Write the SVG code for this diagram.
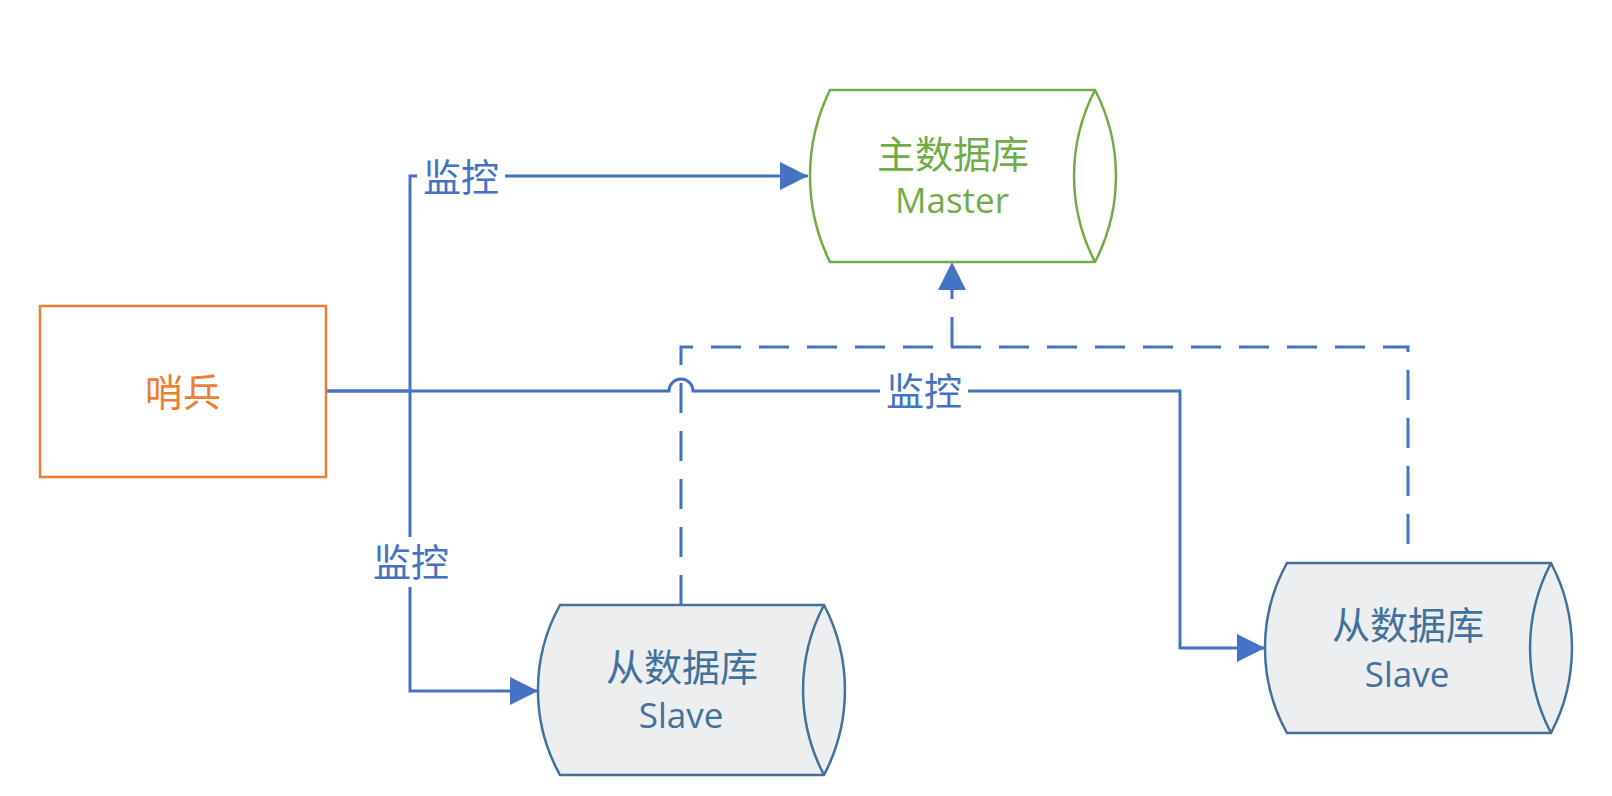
<svg xmlns="http://www.w3.org/2000/svg" width="1612" height="796" viewBox="0 0 1612 796">
<style>
.cn{font-family:"Noto Sans CJK SC","Microsoft YaHei",sans-serif;font-size:38px;text-anchor:middle}
.lat{font-family:"Open Sans","Noto Sans",sans-serif;font-size:35px;text-anchor:middle}
.conn{fill:none;stroke:#4472C4;stroke-width:3}
.dash{stroke-dasharray:30 18}
.lbl{fill:#4472C4}
.lblbg{fill:#FFFFFF}
.master{fill:#FFFFFF;stroke:#70AD47;stroke-width:2.5}
.slave{fill:#ECEEEF;stroke:#41719C;stroke-width:2.5}
.inner{fill:none}
</style>
<defs>
<marker id="arr" markerUnits="userSpaceOnUse" markerWidth="28" markerHeight="28" viewBox="0 0 26 26" refX="26" refY="13" orient="auto">
<path d="M0,0 L26,13 L0,26 Z" fill="#4472C4"/>
</marker>
</defs>
<rect width="1612" height="796" fill="#FFFFFF"/>

<g id="connectors">
<path class="conn" d="M326,391 H410 V176 H808" marker-end="url(#arr)"/>
<path class="conn" d="M410,391 V691 H538" marker-end="url(#arr)"/>
<path class="conn" d="M326,391 H669 A12,12 0 0 1 693,391 H1180 V648 H1265" marker-end="url(#arr)"/>
<path class="conn dash" d="M681,605 V347 H1408 V563"/>
<path class="conn dash" d="M952,347 V262" marker-end="url(#arr)"/>
<g id="label-master">
<rect class="lblbg" x="417" y="158" width="88" height="38"/>
<text class="cn lbl" x="461" y="191">监控</text>
</g>
<g id="label-slave2">
<rect class="lblbg" x="880" y="372" width="88" height="38"/>
<text class="cn lbl" x="924" y="405">监控</text>
</g>
<g id="label-slave1">
<rect class="lblbg" x="367" y="537" width="88" height="50"/>
<text class="cn lbl" x="411" y="576">监控</text>
</g>
</g>

<g id="sentinel">
<rect x="40" y="306" width="286" height="171" fill="#FFFFFF" stroke="#ED7D31" stroke-width="2.5"/>
<text class="cn" x="183" y="406" fill="#ED7D31">哨兵</text>
</g>

<g id="master">
<path class="master" d="M830,90 H1095 A187,187 0 0 1 1095,262 H830 A195,195 0 0 1 830,90 Z"/>
<path class="master inner" d="M1095,90 A187,187 0 0 0 1095,262"/>
<text class="cn" x="953" y="168" fill="#70AD47">主数据库</text>
<text class="lat" x="952" y="213" fill="#70AD47">Master</text>
</g>

<g id="slave1">
<path class="slave" d="M560,605 H824 A183,183 0 0 1 824,775 H560 A175,175 0 0 1 560,605 Z"/>
<path class="slave inner" d="M824,605 A183,183 0 0 0 824,775"/>
<text class="cn" x="682" y="681" fill="#41719C">从数据库</text>
<text class="lat" x="681" y="728" fill="#41719C">Slave</text>
</g>

<g id="slave2">
<path class="slave" d="M1287,563 H1551 A183,183 0 0 1 1551,733 H1287 A175,175 0 0 1 1287,563 Z"/>
<path class="slave inner" d="M1551,563 A183,183 0 0 0 1551,733"/>
<text class="cn" x="1408" y="639" fill="#41719C">从数据库</text>
<text class="lat" x="1407" y="687" fill="#41719C">Slave</text>
</g>
</svg>
